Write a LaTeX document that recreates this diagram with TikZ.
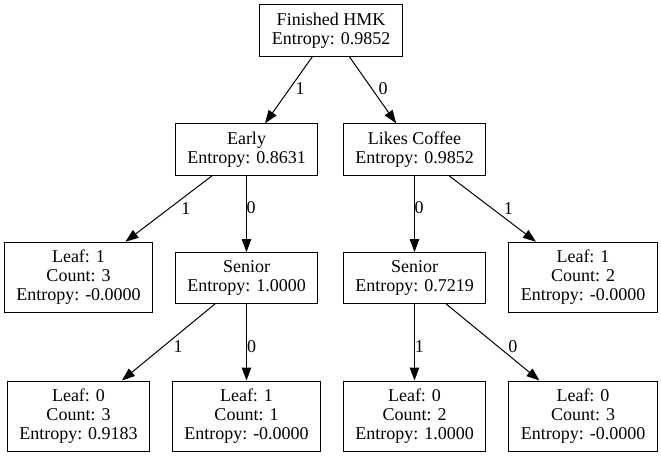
\documentclass[tikz,border=0pt]{standalone}
\usepackage{fontspec}
\setmainfont{Liberation Serif}
\usetikzlibrary{arrows.meta}
\tikzstyle{split}=[draw,line width=1pt,align=center,inner xsep=12pt,inner ysep=8pt,font=\fontsize{18}{19}\selectfont]
\tikzstyle{lbl}=[inner sep=0pt,font=\fontsize{18}{19}\selectfont]

\begin{document}
\begin{tikzpicture}[x=1pt,y=-1pt,line width=1pt,-{Triangle[length=13pt,width=9.5pt]}]
          \useasboundingbox (0,0) rectangle (661,457);
          \foreach \name/\x/\y/\text in {root/331/30.5/{Finished HMK\\Entropy: 0.9852},
                                          early/246.5/149.5/{Early\\Entropy: 0.8631},
                                          coffee/414.5/149.5/{Likes Coffee\\Entropy: 0.9852},
                                          leafA/78.5/277.5/{Leaf: 1\\Count: 3\\Entropy: -0.0000},
                                          seniorL/246.5/278/{Senior\\Entropy: 1.0000},
                                          seniorR/414.5/278/{Senior\\Entropy: 0.7219},
                                          leafB/583/277.5/{Leaf: 1\\Count: 2\\Entropy: -0.0000},
                                          leafC/78.5/416.3/{Leaf: 0\\Count: 3\\Entropy: 0.9183},
                                          leafD/246.5/416.3/{Leaf: 1\\Count: 1\\Entropy: -0.0000},
                                          leafE/414.5/416.3/{Leaf: 0\\Count: 2\\Entropy: 1.0000},
                                          leafF/583/416.3/{Leaf: 0\\Count: 3\\Entropy: -0.0000}}
            \node[split] (\name) at (\x,\y) {\text};
          \foreach \from/\to/\lab/\dx/\dy in {root/early/1/11.5/1, root/coffee/0/10.5/1,
                                              early/leafA/1/17/0, early/seniorL/0/4.6/6,
                                              coffee/seniorR/0/4.5/6, coffee/leafB/1/16/0,
                                              seniorL/leafC/1/9.6/-4.7, seniorL/leafD/0/5.2/-4.7,
                                              seniorR/leafE/1/4.8/-4, seniorR/leafF/0/20/-4}
            \draw (\from) -- node[lbl,xshift=\dx pt,yshift=\dy pt] {\lab} (\to);
        \end{tikzpicture}
\end{document}
